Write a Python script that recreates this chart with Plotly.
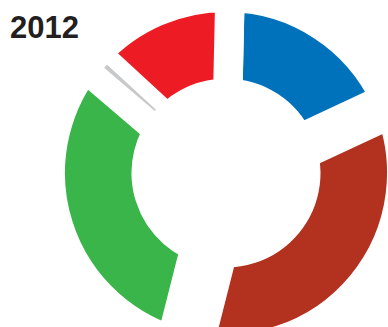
import plotly.graph_objects as go

# Vote shares in percent, listed clockwise from the top of the ring
parties = ["Blue", "Dark red", "Green", "Grey", "Red"]
shares = [17.7, 35.9, 32.3, 0.6, 13.5]
colors = ["#0072bc", "#b3311f", "#39b54a", "#c7c8ca", "#ed1c24"]
year_label = "2012"

# Ring geometry in pixels (the radial axis is set up so 1 unit = 1 px)
R_OUT = 161.0
R_IN = 94.5
# White inset cut into both straight edges of each slice
gap_px = [14.8, 30.9, 26.4, 0.9, 14.7]
START_DEG = 1.27          # clockwise from 12 o'clock where the first slice begins

FIG_W, FIG_H = 400, 340
CX, CY = 226.0, 173.0     # ring centre, px from the top-left corner
POLAR_R = 165.0

total = float(sum(shares))
spans = [360.0 * s / total for s in shares]
starts = []
acc = 0.0
for sp in spans:
    starts.append(acc)
    acc += sp
centres = [st + sp / 2.0 for st, sp in zip(starts, spans)]

# Widest gaps are painted first so that narrower neighbours repaint over
# the spill of their strokes; every slice ends up inset by its own gap.
order = sorted(range(len(shares)), key=lambda i: -gap_px[i])

fig = go.Figure()
fig.add_trace(go.Barpolar(
    theta=[centres[i] for i in order],
    width=[spans[i] for i in order],
    base=[R_IN - gap_px[i] for i in order],
    r=[(R_OUT - R_IN) + 2.0 * gap_px[i] for i in order],
    text=[parties[i] for i in order],
    marker=dict(
        color=[colors[i] for i in order],
        line=dict(color="white", width=[2.0 * gap_px[i] for i in order]),
    ),
    hoverinfo="skip",
    showlegend=False,
))

dom_x = [(CX - POLAR_R) / FIG_W, (CX + POLAR_R) / FIG_W]
dom_y = [(FIG_H - CY - POLAR_R) / FIG_H, (FIG_H - CY + POLAR_R) / FIG_H]

fig.update_layout(
    width=FIG_W,
    height=FIG_H,
    margin=dict(l=0, r=0, t=0, b=0),
    paper_bgcolor="white",
    plot_bgcolor="white",
    showlegend=False,
    polar=dict(
        domain=dict(x=dom_x, y=dom_y),
        bgcolor="white",
        hole=0,
        radialaxis=dict(range=[0, POLAR_R], visible=False, showgrid=False,
                        showline=False, showticklabels=False, ticks=""),
        angularaxis=dict(rotation=90 - START_DEG, direction="clockwise",
                         visible=False, showgrid=False, showline=False,
                         showticklabels=False, ticks=""),
    ),
    # white rim over the edge of the polar clip region, outside the ring
    shapes=[dict(
        type="circle", xref="paper", yref="paper", layer="above",
        x0=dom_x[0], x1=dom_x[1], y0=dom_y[0], y1=dom_y[1],
        line=dict(color="white", width=5), fillcolor="rgba(0,0,0,0)",
    )],
    annotations=[dict(
        text="<b>" + year_label + "</b>",
        xref="paper", yref="paper",
        x=7.5 / FIG_W, y=1 - 27.3 / FIG_H,
        xanchor="left", yanchor="middle",
        showarrow=False,
        font=dict(family="Liberation Sans, Arial, sans-serif", size=31, color="#231f20"),
    )],
)

page_css = (
    "document.documentElement.style.overflow='hidden';"
    "document.body.style.overflow='hidden';"
    "document.body.style.margin='0';"
)

fig.write_html("out.html", config={"displayModeBar": False}, post_script=page_css)
